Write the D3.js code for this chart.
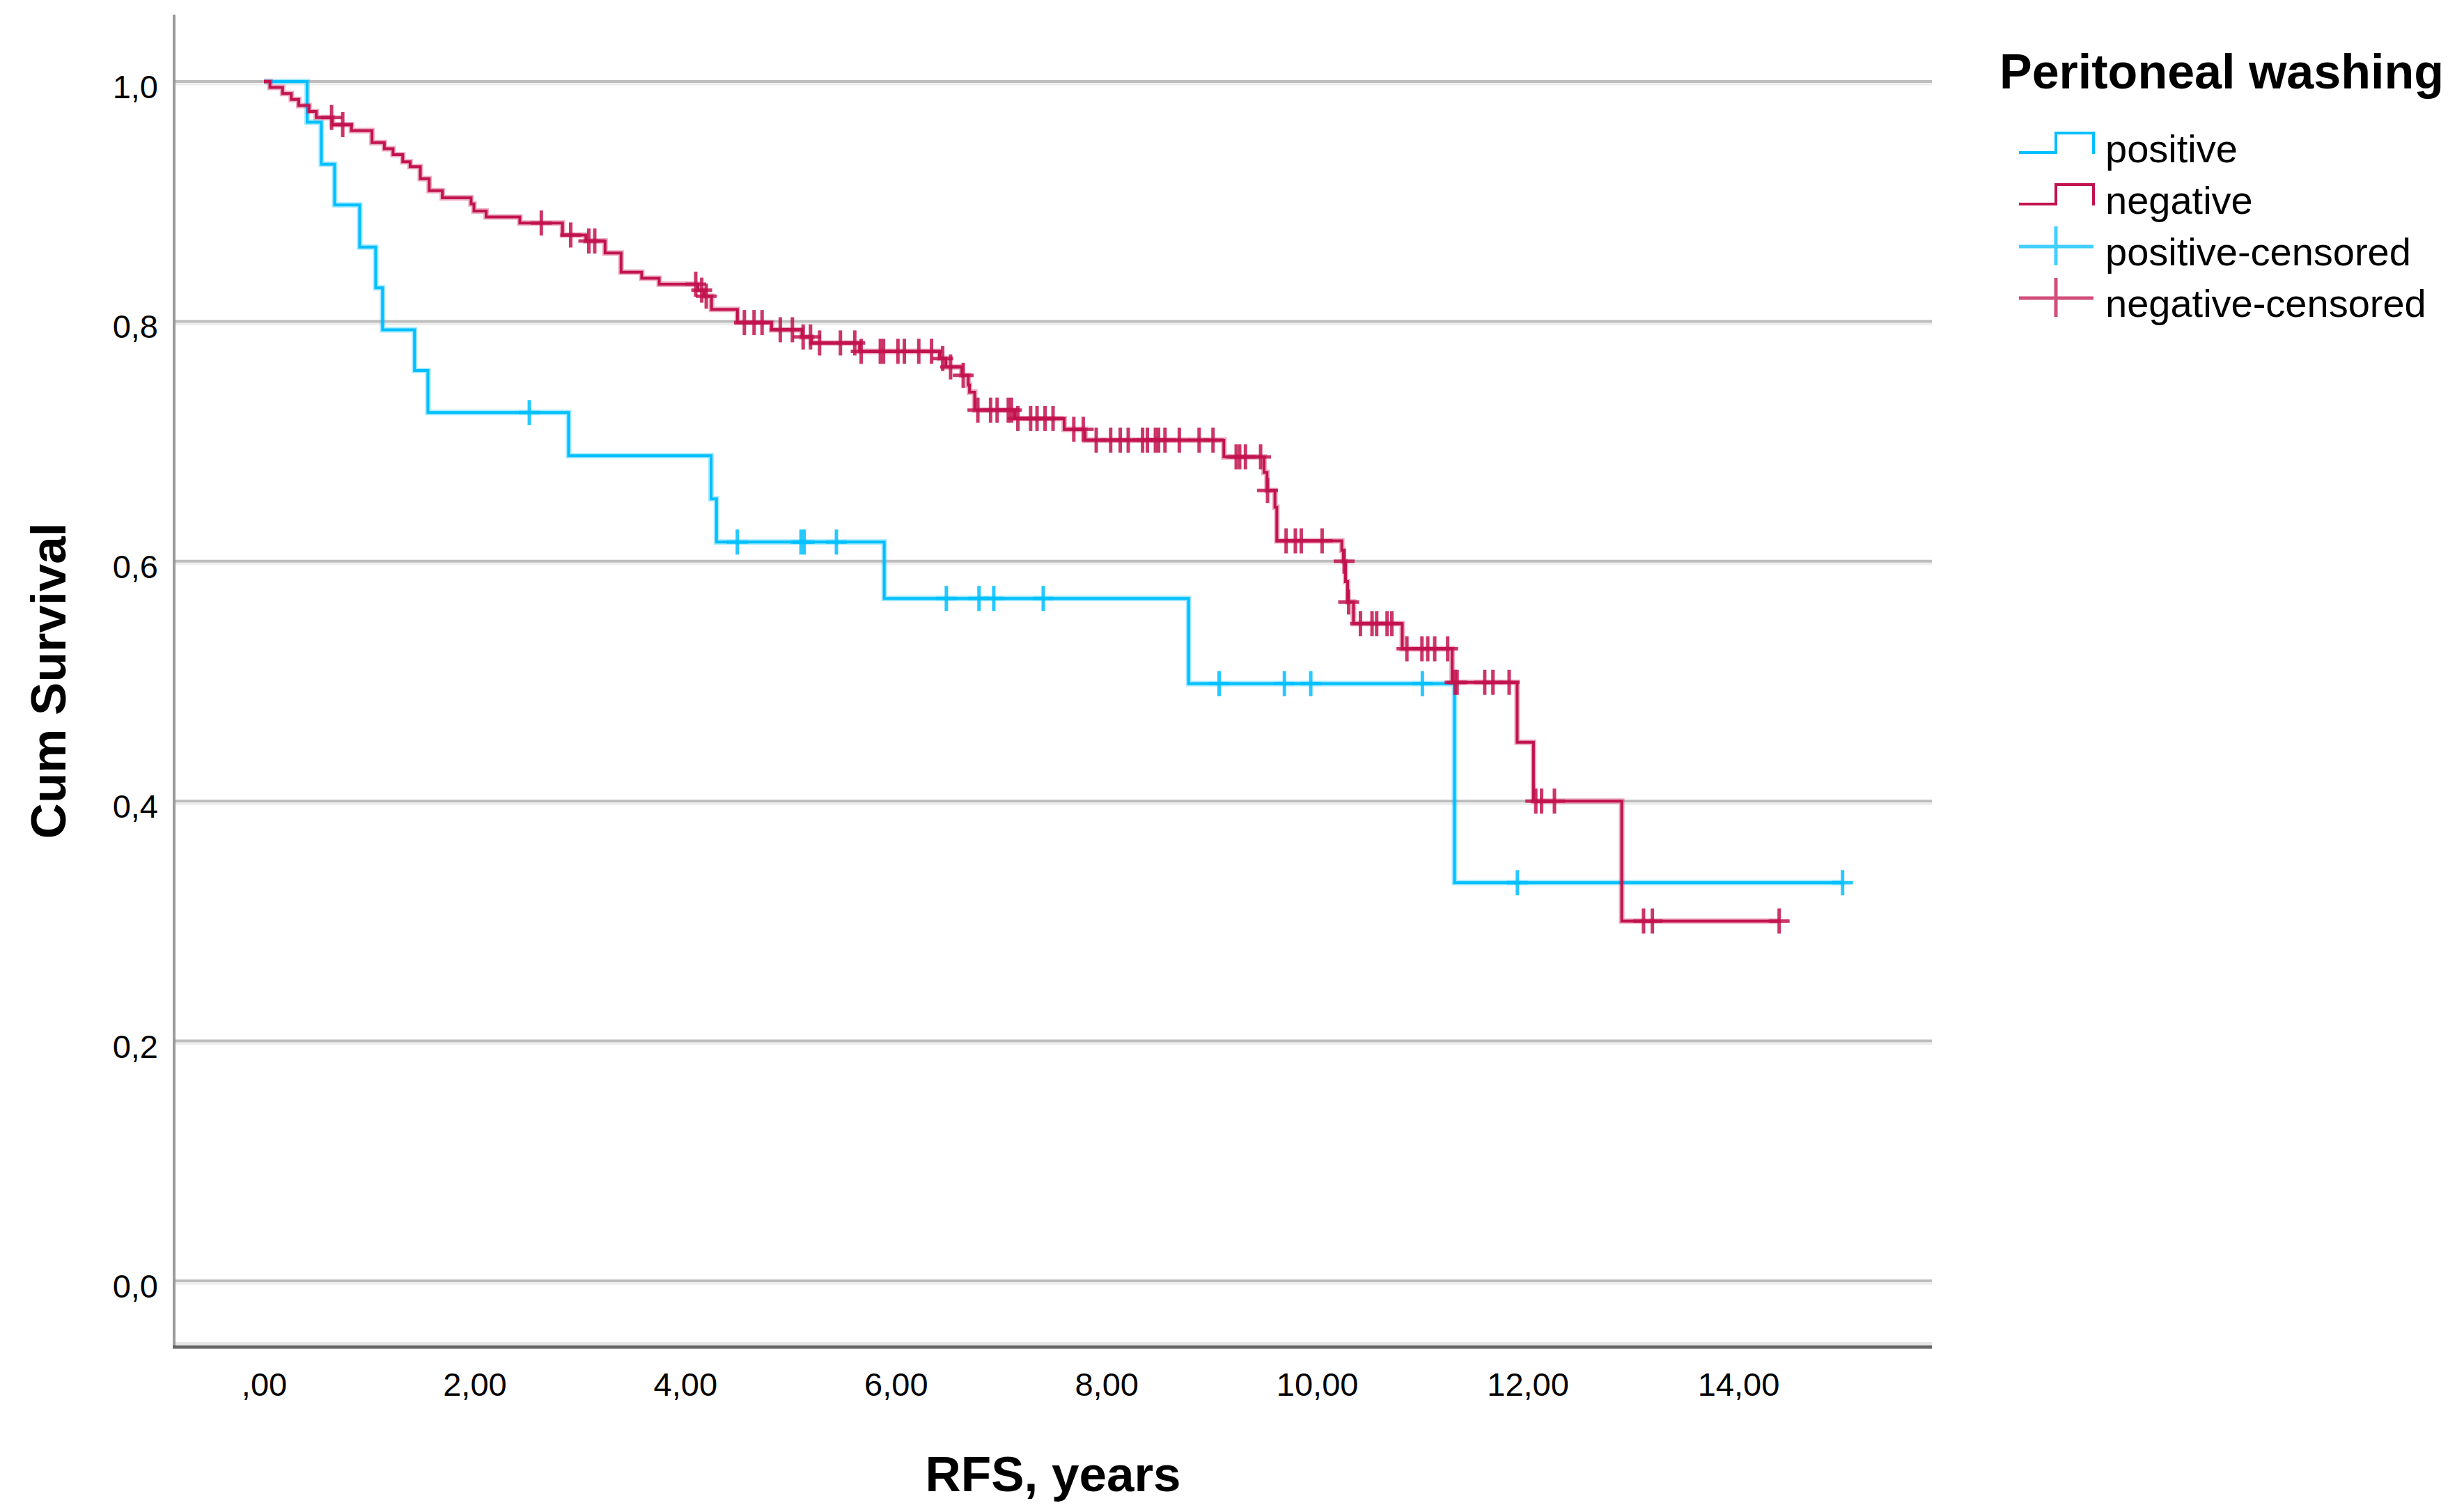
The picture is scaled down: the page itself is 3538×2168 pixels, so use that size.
<!DOCTYPE html>
<html>
<head>
<meta charset="utf-8">
<script src="https://cdn.jsdelivr.net/npm/d3@7"></script>
<style>
  body { margin: 0; background: #fff; }
  text { font-family: 'Liberation Sans', Arial, sans-serif; fill: #000; }
</style>
</head>
<body>
<svg id="chart" width="3538" height="2168"></svg>
<script>
// positive washing group (step function + censored times)
const posTimes = [0, 0.41, 0.545, 0.671, 0.909, 1.061, 1.126, 1.43, 1.557, 2.893, 4.246, 4.297, 5.89, 8.78, 11.305];
const posSurv = [1, 0.966, 0.931, 0.897, 0.862, 0.828, 0.793, 0.759, 0.724, 0.688, 0.652, 0.616, 0.569, 0.498, 0.332];
const posCensored = [2.52, 4.495, 5.10, 5.13, 5.436, 6.48, 6.79, 6.93, 7.40, 9.07, 9.69, 9.94, 11.0, 11.902, 14.99];

// negative washing group
const negTimes = [0, 0.057, 0.177, 0.26, 0.33, 0.428, 0.497, 0.65, 0.831, 1.026,
  1.143, 1.226, 1.318, 1.388, 1.485, 1.569, 1.694, 1.967, 1.994, 2.11,
  2.43, 2.835, 3.057, 3.239, 3.391, 3.587, 3.753, 4.12, 4.18, 4.25,
  4.496, 4.82, 5.109, 5.2, 5.656, 6.415, 6.476, 6.627, 6.688, 6.70,
  6.749, 7.129, 7.599, 7.797, 9.115, 9.497, 9.525, 9.60, 9.618, 10.235,
  10.25, 10.27, 10.29, 10.346, 10.809, 11.283, 11.9, 12.055, 12.893];
const negSurv = [1, 0.995, 0.990, 0.985, 0.980, 0.975, 0.970, 0.964, 0.959, 0.949,
  0.944, 0.939, 0.933, 0.929, 0.919, 0.909, 0.903, 0.898, 0.892, 0.887,
  0.882, 0.872, 0.867, 0.857, 0.841, 0.836, 0.831, 0.826, 0.821, 0.810,
  0.799, 0.793, 0.787, 0.782, 0.775, 0.769, 0.762, 0.755, 0.747, 0.741,
  0.726, 0.719, 0.710, 0.701, 0.687, 0.674, 0.659, 0.645, 0.617, 0.609,
  0.600, 0.583, 0.566, 0.548, 0.527, 0.499, 0.449, 0.400, 0.300];
const negCensored = [0.642, 0.748, 2.634, 2.913, 3.085, 3.141, 4.10, 4.157, 4.2,
  4.562, 4.654, 4.73, 4.903, 5.018, 5.12, 5.19, 5.276, 5.474, 5.61,
  5.671, 5.853, 5.883, 6.02, 6.081, 6.218, 6.339, 6.445, 6.52, 6.64,
  6.779, 6.90, 6.962, 7.068, 7.098, 7.159, 7.28, 7.341, 7.417, 7.493, 7.69, 7.78,
  7.903, 8.04, 8.131, 8.207, 8.343, 8.389, 8.465, 8.495, 8.556, 8.692, 8.88, 9.012,
  9.232, 9.265, 9.32, 9.464, 9.53, 9.706, 9.794, 9.85, 10.048, 10.257, 10.30,
  10.412, 10.522, 10.566, 10.665, 10.71, 10.853, 10.996, 11.051, 11.117, 11.24,
  11.31, 11.33, 11.592, 11.67, 11.824, 12.077, 12.132, 12.254, 13.10, 13.184, 14.388];

const xTicks = [0, 2, 4, 6, 8, 10, 12, 14];
const xTickLabels = [',00', '2,00', '4,00', '6,00', '8,00', '10,00', '12,00', '14,00'];
const yTicks = [0, 0.2, 0.4, 0.6, 0.8, 1.0];
const yTickLabels = ['0,0', '0,2', '0,4', '0,6', '0,8', '1,0'];

const legendLabels = ['positive', 'negative', 'positive-censored', 'negative-censored'];
const colors = { positive: '#00bfff', negative: '#c2134f' };

// frame of the plot area in pixels
const frame = { left: 250, right: 2774, top: 21, bottom: 1934 };

const x = d3.scaleLinear().domain([0, 14]).range([379, 2496]);
const y = d3.scaleLinear().domain([0, 1]).range([1839, 117]);

const svg = d3.select('#chart');

// gridlines
svg.append('g').selectAll('line')
  .data(yTicks)
  .enter().append('line')
    .attr('x1', frame.left).attr('x2', frame.right)
    .attr('y1', d => y(d)).attr('y2', d => y(d))
    .attr('stroke', '#bdbdbd')
    .attr('stroke-width', 4);
svg.append('g').selectAll('line')
  .data(yTicks)
  .enter().append('line')
    .attr('x1', frame.left).attr('x2', frame.right)
    .attr('y1', d => y(d) + 4).attr('y2', d => y(d) + 4)
    .attr('stroke', '#ededed')
    .attr('stroke-width', 3);

// axes lines
svg.append('line')
  .attr('x1', frame.left).attr('x2', frame.right)
  .attr('y1', frame.bottom - 5).attr('y2', frame.bottom - 5)
  .attr('stroke', '#e6e6e6').attr('stroke-width', 4);
svg.append('line')
  .attr('x1', frame.left).attr('x2', frame.left)
  .attr('y1', frame.top).attr('y2', frame.bottom)
  .attr('stroke', '#9a9a9a').attr('stroke-width', 4);
svg.append('line')
  .attr('x1', frame.left - 2).attr('x2', frame.right)
  .attr('y1', frame.bottom).attr('y2', frame.bottom)
  .attr('stroke', '#666').attr('stroke-width', 5);

// tick labels through d3 axes (no tick marks, no domain)
const xAxis = svg.append('g')
  .attr('transform', `translate(0,${frame.bottom})`)
  .call(d3.axisBottom(x).tickValues(xTicks).tickSize(0).tickPadding(70)
    .tickFormat((d, i) => xTickLabels[i]));
xAxis.select('.domain').remove();
xAxis.selectAll('text')
  .attr('dy', 0)
  .style('font-size', '47px')
  .style('font-family', "'Liberation Sans', Arial, sans-serif");

const yAxis = svg.append('g')
  .attr('transform', `translate(${frame.left},0)`)
  .call(d3.axisLeft(y).tickValues(yTicks).tickSize(0).tickPadding(23)
    .tickFormat((d, i) => yTickLabels[i]));
yAxis.select('.domain').remove();
yAxis.selectAll('text')
  .attr('dy', '0.35em')
  .attr('y', 7)
  .style('font-size', '47px')
  .style('font-family', "'Liberation Sans', Arial, sans-serif");

// axis titles
svg.append('text')
  .attr('x', (frame.left + frame.right) / 2)
  .attr('y', 2141)
  .attr('text-anchor', 'middle')
  .style('font-size', '71px')
  .style('font-weight', 'bold')
  .text('RFS, years');

svg.append('text')
  .attr('transform', `translate(94,${(frame.top + frame.bottom) / 2}) rotate(-90)`)
  .attr('text-anchor', 'middle')
  .style('font-size', '71px')
  .style('font-weight', 'bold')
  .text('Cum Survival');

// survival curves
const stepLine = d3.line()
  .x(d => x(d[0]))
  .y(d => y(d[1]))
  .curve(d3.curveStepAfter);

function curvePoints(times, surv, censored) {
  const pts = times.map((t, i) => [t, surv[i]]);
  const last = d3.max(censored);
  if (last > times[times.length - 1]) pts.push([last, surv[surv.length - 1]]);
  return pts;
}

function survAt(times, surv, t) {
  const i = d3.bisectRight(times, t) - 1;
  return surv[Math.max(0, i)];
}

function drawGroup(times, surv, censored, color) {
  const g = svg.append('g');
  const pts = curvePoints(times, surv, censored);

  g.append('path')
    .attr('d', stepLine(pts))
    .attr('fill', 'none')
    .attr('stroke', color)
    .attr('stroke-opacity', 0.35)
    .attr('stroke-width', 8);
  g.append('path')
    .attr('d', stepLine(pts))
    .attr('fill', 'none')
    .attr('stroke', color)
    .attr('stroke-width', 4);

  const marks = g.selectAll('g.censor')
    .data(censored)
    .enter().append('g')
      .attr('class', 'censor')
      .attr('transform', d => `translate(${x(d)},${y(survAt(times, surv, d))})`);
  marks.append('line')
    .attr('x1', 0).attr('x2', 0).attr('y1', -18).attr('y2', 18)
    .attr('stroke', color).attr('stroke-width', 5).attr('stroke-opacity', 0.85);
  marks.append('line')
    .attr('x1', -15).attr('x2', 15).attr('y1', 0).attr('y2', 0)
    .attr('stroke', color).attr('stroke-width', 5).attr('stroke-opacity', 0.85);
}

drawGroup(posTimes, posSurv, posCensored, colors.positive);
drawGroup(negTimes, negSurv, negCensored, colors.negative);

// legend
const legend = svg.append('g');
legend.append('text')
  .attr('x', 2871).attr('y', 127)
  .style('font-size', '70px')
  .style('font-weight', 'bold')
  .text('Peritoneal washing');

const legendRows = [233, 307, 381, 455];
const legendColors = [colors.positive, colors.negative, colors.positive, colors.negative];

legendLabels.forEach((label, i) => {
  const yy = legendRows[i];
  const c = legendColors[i];
  if (i < 2) {
    legend.append('path')
      .attr('d', `M2899,${yy - 14} H2952 V${yy - 42} H3006 V${yy - 12}`)
      .attr('fill', 'none')
      .attr('stroke', c)
      .attr('stroke-width', 4);
  } else {
    legend.append('path')
      .attr('d', `M2899,${yy - 27} H3006 M2952,${yy - 56} V${yy}`)
      .attr('fill', 'none')
      .attr('stroke', c)
      .attr('stroke-opacity', 0.75)
      .attr('stroke-width', 5);
  }
  legend.append('text')
    .attr('x', 3023).attr('y', yy)
    .style('font-size', '56px')
    .text(label);
});
</script>
</body>
</html>
